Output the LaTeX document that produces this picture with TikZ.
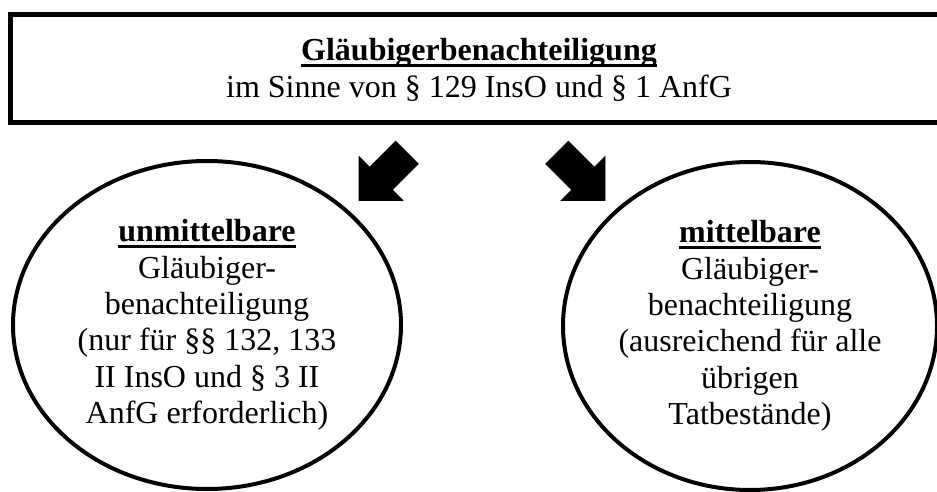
\documentclass[tikz,border=0pt]{standalone}
\usepackage{fontspec}
\setmainfont{Liberation Serif}
\usetikzlibrary{shapes.geometric}
\newcommand\ulb[1]{\setbox0\hbox{#1}\leavevmode\rlap{\vrule width \wd0 height -1.5pt depth 3pt}\box0}
\tikzset{
  txt/.style={font=\fontsize{16pt}{18.2pt}\selectfont, align=center, inner sep=0pt},
  frame/.style={draw, line width=2.5pt, rectangle, inner sep=0pt, anchor=north west},
  ell/.style={draw, line width=2pt, ellipse, inner sep=0pt, txt},
  blockarrow/.style={fill=black, draw=black, line width=0.3pt, line join=miter}
}
\begin{document}
\begin{tikzpicture}[x=0.5pt, y=-0.5pt]
\useasboundingbox (0,0) rectangle (937,492);
% top box (right side runs off the page)
\node[frame, minimum width=478pt, minimum height=54pt] (top) at (7.5,12) {};
\node[txt] (toptext) at (479,70) {\ulb{\textbf{Gläubigerbenachteiligung}}\\im Sinne von § 129 InsO und § 1 AnfG};
% ellipses
\node[ell, minimum width=194pt, minimum height=164pt] (left) at (207,325)
  {\ulb{\textbf{unmittelbare}}\\Gläubiger-\\benachteiligung\\(nur für §§ 132, 133\\II InsO und § 3 II\\AnfG erforderlich)};
\node[ell, minimum width=187pt, minimum height=164pt] (right) at (750,326)
  {\ulb{\textbf{mittelbare}}\\Gläubiger-\\benachteiligung\\(ausreichend für alle\\übrigen\\Tatbestände)};
% block arrows
\fill[blockarrow] (395.6,141.1) -- (418.4,163.9) -- (392.4,189.9) -- (403,200.5) -- (359,200.5) -- (359,156.5) -- (369.6,167.1) -- cycle;
\fill[blockarrow] (568.4,141.1) -- (545.6,163.9) -- (571.6,189.9) -- (561,200.5) -- (605,200.5) -- (605,156.5) -- (594.4,167.1) -- cycle;
\end{tikzpicture}
\end{document}
